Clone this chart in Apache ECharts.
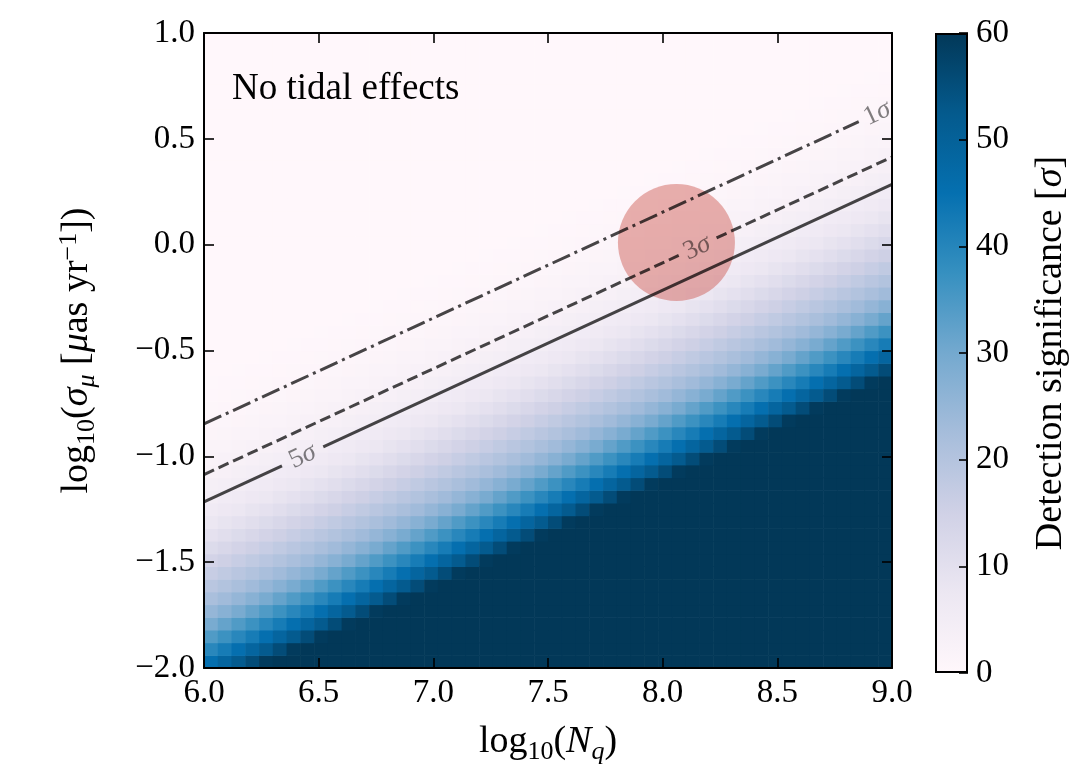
<!DOCTYPE html>
<html>
<head>
<meta charset="utf-8">
<script src="https://cdn.jsdelivr.net/npm/echarts@6/dist/echarts.min.js"></script>
<style>
  html, body { margin: 0; background: #fff; }
  #chart { width: 1075px; height: 770px; }
</style>
</head>
<body>
<div id="chart"></div>
<script>
// --- data ---
var xTicks = [6.0, 6.5, 7.0, 7.5, 8.0, 8.5, 9.0];
var yTicks = [-2.0, -1.5, -1.0, -0.5, 0.0, 0.5, 1.0];
var cbarTicks = [0, 10, 20, 30, 40, 50, 60];

// 50 x 50 cells; every cell on the same diagonal (col - 2*row) shares one value
var nCols = 50, nRows = 50;
var kStart = -50;
// detection significance along a diagonal, k = col - 2*row, from k = -50 to k = 5
var sigmaByDiagonal = [
  0.05, 0.06, 0.08, 0.1, 0.12, 0.15, 0.2, 0.28, 0.38, 0.5,
  0.62, 0.78, 0.98, 1.15, 1.35, 1.6, 1.8, 2.05, 2.3, 2.65,
  2.95, 3.35, 3.8, 4.3, 4.8, 5.4, 6.1, 6.8, 7.6, 8.5,
  9.5, 10.5, 11.7, 12.9, 14.2, 15.4, 16.6, 17.8, 19.1, 20.4,
  21.8, 23.3, 25, 27, 29.3, 31.8, 34.3, 36.8, 39.5, 42.3,
  45.3, 48.6, 52, 55.5, 59.3, 60
];

// contour lines (broken where the label sits)
var oneSigmaLine = [[6.0, -0.847], [8.855, 0.581]];
var threeSigmaLineA = [[6.0, -1.086], [8.07, -0.051]];
var threeSigmaLineB = [[8.235, 0.032], [9.0, 0.414]];
var fiveSigmaLineA = [[6.0, -1.215], [6.34, -1.045]];
var fiveSigmaLineB = [[6.52, -0.955], [9.0, 0.285]];
var contourLabels = [[8.935, 0.62, '1'], [8.15, -0.015, '3'], [6.43, -1.0, '5']];

var circleCenter = [[8.06, 0.01]];

var puBu = ['#fff7fb', '#ece7f2', '#d0d1e6', '#a6bddb', '#74a9cf', '#3690c0', '#0570b0', '#045a8d', '#023858'];

// --- build cells ---
var xMin = 6, xMax = 9, yMin = -2, yMax = 1;
var cellW = (xMax - xMin) / nCols, cellH = (yMax - yMin) / nRows;
var cells = [];
for (var j = 0; j < nRows; j++) {
  for (var i = 0; i < nCols; i++) {
    var idx = Math.max(0, Math.min(sigmaByDiagonal.length - 1, i - 2 * j - kStart));
    cells.push([xMin + (i + 0.5) * cellW, yMin + (j + 0.5) * cellH, sigmaByDiagonal[idx]]);
  }
}

var serif = "'Liberation Serif', 'DejaVu Serif', serif";
var big = 38, small = 26;
var rich = {
  n: { fontFamily: serif, fontSize: big, color: '#000' },
  i: { fontFamily: serif, fontSize: big, fontStyle: 'italic', color: '#000' },
  sub: { fontFamily: serif, fontSize: small, color: '#000', padding: [20, 0, 0, 0] },
  subi: { fontFamily: serif, fontSize: small, fontStyle: 'italic', color: '#000', padding: [20, 0, 0, 0] },
  sup: { fontFamily: serif, fontSize: small, color: '#000', padding: [0, 0, 16, 0] }
};

function fmt(v) { return v.toFixed(1).replace('-', '\u2212'); }

var tickLabel = { fontFamily: serif, fontSize: 33, color: '#000' };
var frameLine = { show: true, onZero: false, lineStyle: { color: '#000', width: 2 } };
var inTicks = { show: true, inside: true, length: 10, lineStyle: { color: '#000', width: 1.6 } };

var lineColor = 'rgba(0,0,0,0.72)';
function contour(data, type) {
  return {
    type: 'line', data: data, symbol: 'none', z: 5, silent: true,
    lineStyle: { color: lineColor, width: 3, type: type }
  };
}

var chart = echarts.init(document.getElementById('chart'), null, { renderer: 'canvas' });
chart.setOption({
  animation: false,
  backgroundColor: '#fff',
  title: {
    text: 'No tidal effects', left: 227, top: 66,
    textStyle: { fontFamily: serif, fontSize: 37, fontWeight: 'normal', color: '#000' }
  },
  grid: [
    { left: 204, top: 33, width: 688, height: 640 },
    { left: 935, top: 33, width: 33, height: 640 }
  ],
  visualMap: {
    show: false, type: 'continuous', min: 0, max: 60, dimension: 2, seriesIndex: 0,
    inRange: { color: puBu }
  },
  xAxis: [
    {
      type: 'value', gridIndex: 0, min: xMin, max: xMax, interval: 0.5, z: 10,
      axisLine: frameLine, axisTick: inTicks, splitLine: { show: false },
      axisLabel: Object.assign({ margin: 9, formatter: fmt }, tickLabel),
      name: '{n|log}{sub|10}{n|(}{i|N}{subi|q}{n|)}',
      nameLocation: 'middle', nameGap: 51,
      nameTextStyle: { rich: rich }
    },
    {
      type: 'value', gridIndex: 0, position: 'top', min: xMin, max: xMax, interval: 0.5, z: 10,
      axisLine: frameLine, axisTick: inTicks, axisLabel: { show: false }, splitLine: { show: false }
    },
    {
      type: 'category', gridIndex: 1, data: ['cbar'], show: false
    }
  ],
  yAxis: [
    {
      type: 'value', gridIndex: 0, min: yMin, max: yMax, interval: 0.5, z: 10,
      axisLine: frameLine, axisTick: inTicks, splitLine: { show: false },
      axisLabel: Object.assign({ margin: 9, formatter: fmt }, tickLabel),
      name: '{n|log}{sub|10}{n|(}{i|\u03c3}{subi|\u03bc}{n| [}{i|\u03bc}{n|as yr}{sup|\u22121}{n|])}',
      nameLocation: 'middle', nameGap: 104, nameRotate: 90,
      nameTextStyle: { rich: rich }
    },
    {
      type: 'value', gridIndex: 0, position: 'right', min: yMin, max: yMax, interval: 0.5, z: 10,
      axisLine: frameLine, axisTick: inTicks, axisLabel: { show: false }, splitLine: { show: false }
    },
    {
      type: 'value', gridIndex: 1, position: 'right', min: 0, max: 60, interval: 10, z: 10,
      axisLine: { show: false },
      axisTick: { show: true, inside: true, length: 9, lineStyle: { color: '#000', width: 1.6 } },
      splitLine: { show: false },
      axisLabel: Object.assign({ margin: 8 }, tickLabel),
      name: '{n|Detection significance [}{i|\u03c3}{n|]}',
      nameLocation: 'middle', nameGap: 64, nameRotate: 90,
      nameTextStyle: { rich: rich }
    }
  ],
  series: [
    {
      type: 'custom', xAxisIndex: 0, yAxisIndex: 0, data: cells, clip: true, z: 2, silent: true,
      encode: { x: 0, y: 1 },
      renderItem: function (params, api) {
        var x = api.value(0), y = api.value(1);
        var a = api.coord([x - cellW / 2, y + cellH / 2]);
        var b = api.coord([x + cellW / 2, y - cellH / 2]);
        return {
          type: 'rect',
          shape: { x: a[0], y: a[1], width: b[0] - a[0] + 0.6, height: b[1] - a[1] + 0.6 },
          style: { fill: api.visual('color') }
        };
      }
    },
    {
      type: 'scatter', xAxisIndex: 0, yAxisIndex: 0, data: circleCenter, z: 3, silent: true,
      symbol: 'circle', symbolSize: 117,
      itemStyle: { color: 'rgba(200,70,60,0.52)' }
    },
    contour(oneSigmaLine, [19, 5, 3, 5]),
    contour(threeSigmaLineA, [11, 5]),
    contour(threeSigmaLineB, [11, 5]),
    contour(fiveSigmaLineA, 'solid'),
    contour(fiveSigmaLineB, 'solid'),
    {
      type: 'scatter', xAxisIndex: 0, yAxisIndex: 0, data: contourLabels, z: 6, silent: true,
      symbolSize: 0,
      label: {
        show: true, position: 'inside', rotate: 25,
        formatter: function (p) { return '{a|' + p.value[2] + '}{b|\u03c3}'; },
        rich: {
          a: { fontFamily: serif, fontSize: 27, color: 'rgba(0,0,0,0.62)' },
          b: { fontFamily: serif, fontSize: 27, fontStyle: 'italic', color: 'rgba(0,0,0,0.62)' }
        }
      }
    },
    {
      type: 'bar', xAxisIndex: 2, yAxisIndex: 2, data: [60], barWidth: '100%', silent: true,
      itemStyle: {
        borderColor: '#000', borderWidth: 2,
        color: {
          type: 'linear', x: 0, y: 1, x2: 0, y2: 0,
          colorStops: puBu.map(function (c, n) { return { offset: n / (puBu.length - 1), color: c }; })
        }
      }
    }
  ]
});
</script>
</body>
</html>
